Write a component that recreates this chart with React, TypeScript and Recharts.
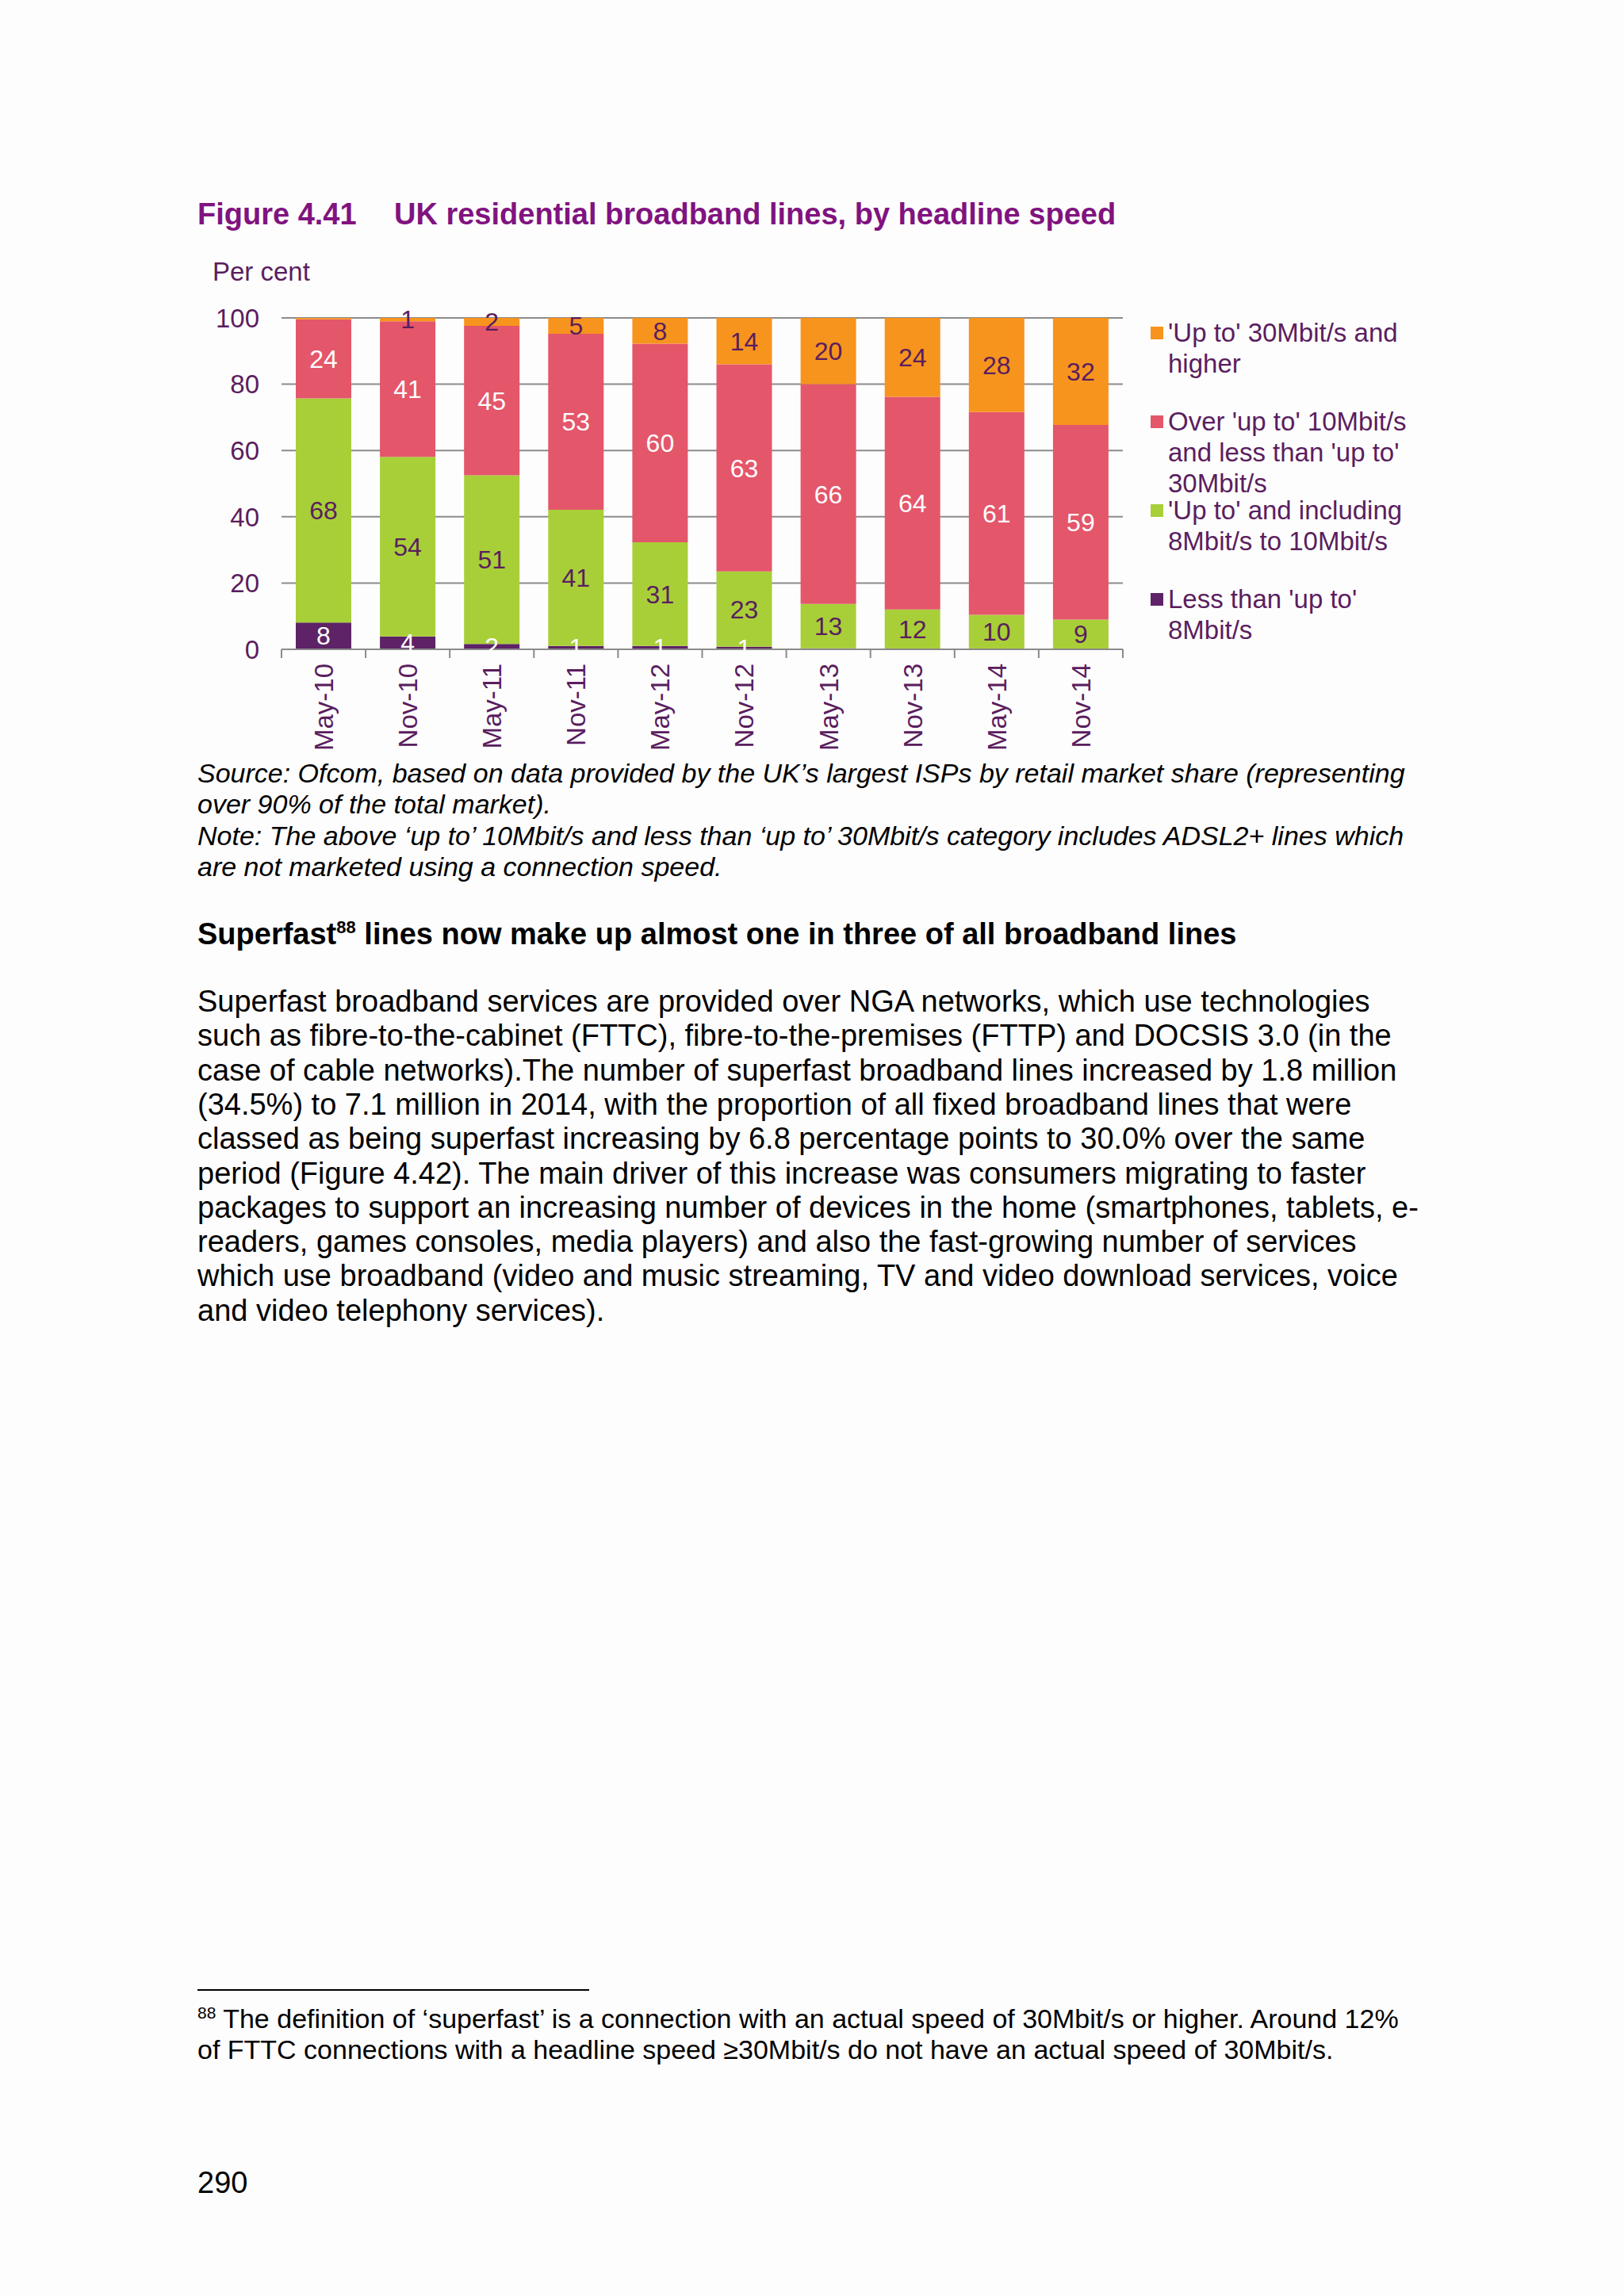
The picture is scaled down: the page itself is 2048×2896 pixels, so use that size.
import { BarChart, Bar, XAxis, YAxis, CartesianGrid, LabelList, Legend } from "recharts"

const CATEGORIES = ["May-10", "Nov-10", "May-11", "Nov-11", "May-12", "Nov-12", "May-13", "Nov-13", "May-14", "Nov-14"]
const BELOW_8 = [8.1, 3.9, 1.6, 1.0, 1.0, 0.8, 0.3, 0.2, 0.2, 0.1]
const FROM_8_TO_10 = [67.6, 54.2, 50.9, 41.1, 31.3, 22.7, 13.4, 11.85, 10.2, 8.9]
const FROM_10_TO_30 = [23.9, 40.9, 45.1, 53.1, 59.9, 62.5, 66.3, 64.15, 61.2, 58.7]
const FROM_30 = [0.4, 1.0, 2.4, 4.8, 7.8, 14.0, 20.0, 23.8, 28.4, 32.3]
const Y_TICKS = [0, 20, 40, 60, 80, 100]

const SERIES = [
  { key: "below8", values: BELOW_8, color: "#5e2266", label: "#ffffff", name: ["Less than 'up to'", "8Mbit/s"] },
  { key: "to10", values: FROM_8_TO_10, color: "#a8cf38", label: "#5a1e5e", name: ["'Up to' and including", "8Mbit/s to 10Mbit/s"] },
  { key: "to30", values: FROM_10_TO_30, color: "#e4566a", label: "#ffffff", name: ["Over 'up to' 10Mbit/s", "and less than 'up to'", "30Mbit/s"] },
  { key: "over30", values: FROM_30, color: "#f7941d", label: "#5a1e5e", name: ["'Up to' 30Mbit/s and", "higher"] },
]

const data = CATEGORIES.map((c, i) => {
  const row: Record<string, string | number> = { period: c }
  SERIES.forEach((s) => (row[s.key] = s.values[i]))
  return row
})

const TEXT = "#5a1e5e"
const FONT = "'Liberation Sans', Arial, sans-serif"
const PLOT_W = 1061

const BODY = [
  "Superfast broadband services are provided over NGA networks, which use technologies",
  "such as fibre-to-the-cabinet (FTTC), fibre-to-the-premises (FTTP) and DOCSIS 3.0 (in the",
  "case of cable networks).The number of superfast broadband lines increased by 1.8 million",
  "(34.5%) to 7.1 million in 2014, with the proportion of all fixed broadband lines that were",
  "classed as being superfast increasing by 6.8 percentage points to 30.0% over the same",
  "period (Figure 4.42). The main driver of this increase was consumers migrating to faster",
  "packages to support an increasing number of devices in the home (smartphones, tablets, e-",
  "readers, games consoles, media players) and also the fast-growing number of services",
  "which use broadband (video and music streaming, TV and video download services, voice",
  "and video telephony services).",
]

const NOTES = [
  "Source: Ofcom, based on data provided by the UK\u2019s largest ISPs by retail market share (representing",
  "over 90% of the total market).",
  "Note: The above \u2018up to\u2019 10Mbit/s and less than \u2018up to\u2019 30Mbit/s category includes ADSL2+ lines which",
  "are not marketed using a connection speed.",
]

function fmtLabel(v: unknown) {
  const n = typeof v === "number" ? v : Number(v)
  return n >= 0.75 ? String(Math.round(n)) : ""
}

function XTick(props: any) {
  const { x, y, payload, index } = props
  const band = PLOT_W / CATEGORIES.length
  return (
    <g>
      <line x1={x - band / 2} x2={x - band / 2} y1={y} y2={y + 11} stroke="#8a8a8a" strokeWidth={2} />
      {index === CATEGORIES.length - 1 && (
        <line x1={x + band / 2} x2={x + band / 2} y1={y} y2={y + 11} stroke="#8a8a8a" strokeWidth={2} />
      )}
      <text
        x={x}
        y={y + 18}
        dy="0.36em"
        textAnchor="end"
        transform={`rotate(-90, ${x}, ${y + 18})`}
        fill={TEXT}
        fontSize={33}
        fontFamily={FONT}
      >
        {payload.value}
      </text>
    </g>
  )
}

function LegendBox() {
  return (
    <div style={{ fontFamily: FONT, fontSize: 33, color: TEXT }}>
      {[...SERIES].reverse().map((s) => (
        <div key={s.key} style={{ height: 112, position: "relative", paddingLeft: 22 }}>
          <div style={{ position: "absolute", left: 0, top: 12, width: 16, height: 16, background: s.color }} />
          {s.name.map((ln) => (
            <div key={ln} style={{ lineHeight: "39px", whiteSpace: "nowrap" }}>
              {ln}
            </div>
          ))}
        </div>
      ))}
    </div>
  )
}

const supStyle = { fontSize: 22, position: "relative" as const, top: -14, lineHeight: 0 }

export default function App() {
  return (
    <div style={{ position: "absolute", left: 0, top: 0, width: 2048, height: 2896, background: "#fefdfe", fontFamily: FONT, color: "#000" }}>
      {/* Title */}
      <div style={{ position: "absolute", left: 249, top: 249, fontSize: 38, fontWeight: 700, color: "#80137f", lineHeight: "43px", whiteSpace: "nowrap" }}>
        Figure 4.41
      </div>
      <div style={{ position: "absolute", left: 497, top: 249, fontSize: 38, fontWeight: 700, color: "#80137f", lineHeight: "43px", whiteSpace: "nowrap" }}>
        UK residential broadband lines, by headline speed
      </div>
      <div style={{ position: "absolute", left: 268, top: 323, fontSize: 33, color: TEXT, lineHeight: "39px" }}>Per cent</div>

      {/* Chart */}
      <div style={{ position: "absolute", left: 0, top: 0 }}>
        <BarChart
          width={2048}
          height={1000}
          data={data}
          margin={{ top: 401, right: 632, bottom: 41, left: 295 }}
          barSize={70}
        >
          <CartesianGrid vertical={false} stroke="#8c8c8c" strokeWidth={2} />
          <XAxis
            dataKey="period"
            height={140}
            tick={<XTick />}
            tickLine={false}
            tickSize={0}
            tickMargin={0}
            interval={0}
            axisLine={{ stroke: "#8a8a8a", strokeWidth: 2 }}
          />
          <YAxis
            width={60}
            domain={[0, 100]}
            ticks={Y_TICKS}
            axisLine={false}
            tickLine={false}
            tickSize={0}
            tickMargin={28}
            tick={{ fontSize: 33, fill: TEXT, fontFamily: FONT }}
          />
          <Legend
            content={<LegendBox />}
            layout="vertical"
            verticalAlign="middle"
            align="center"
            wrapperStyle={{ left: 1451, top: 400, width: 420, right: "auto", bottom: "auto" }}
          />
          {SERIES.map((s) => (
            <Bar key={s.key} dataKey={s.key} stackId="a" fill={s.color} isAnimationActive={false}>
              <LabelList
                dataKey={s.key}
                position="center"
                fill={s.label}
                fontSize={32}
                fontFamily={FONT}
                formatter={fmtLabel}
              />
            </Bar>
          ))}
        </BarChart>
      </div>

      {/* Notes */}
      {NOTES.map((t, i) => (
        <div key={i} style={{ position: "absolute", left: 249, top: 956 + i * 39.4, fontSize: 34, fontStyle: "italic", lineHeight: "39px", whiteSpace: "nowrap" }}>
          {t}
        </div>
      ))}

      <div style={{ position: "absolute", left: 249, top: 1157, fontSize: 38, fontWeight: 700, lineHeight: "43px", whiteSpace: "nowrap" }}>
        Superfast<span style={supStyle}>88</span> lines now make up almost one in three of all broadband lines
      </div>

      {BODY.map((t, i) => (
        <div key={i} style={{ position: "absolute", left: 249, top: 1242 + i * 43.3, fontSize: 38, lineHeight: "43px", whiteSpace: "nowrap" }}>
          {t}
        </div>
      ))}

      {/* Footnote */}
      <div style={{ position: "absolute", left: 249, top: 2509, width: 494, height: 2, background: "#000" }} />
      <div style={{ position: "absolute", left: 249, top: 2527, fontSize: 34, lineHeight: "39px", whiteSpace: "nowrap" }}>
        <span style={{ ...supStyle, fontSize: 21, top: -12 }}>88</span> The definition of &lsquo;superfast&rsquo; is a connection with an actual speed of 30Mbit/s or higher. Around 12%
      </div>
      <div style={{ position: "absolute", left: 249, top: 2566, fontSize: 34, lineHeight: "39px", whiteSpace: "nowrap" }}>
        of FTTC connections with a headline speed &ge;30Mbit/s do not have an actual speed of 30Mbit/s.
      </div>

      <div style={{ position: "absolute", left: 249, top: 2732, fontSize: 38, lineHeight: "43px" }}>290</div>
    </div>
  )
}
